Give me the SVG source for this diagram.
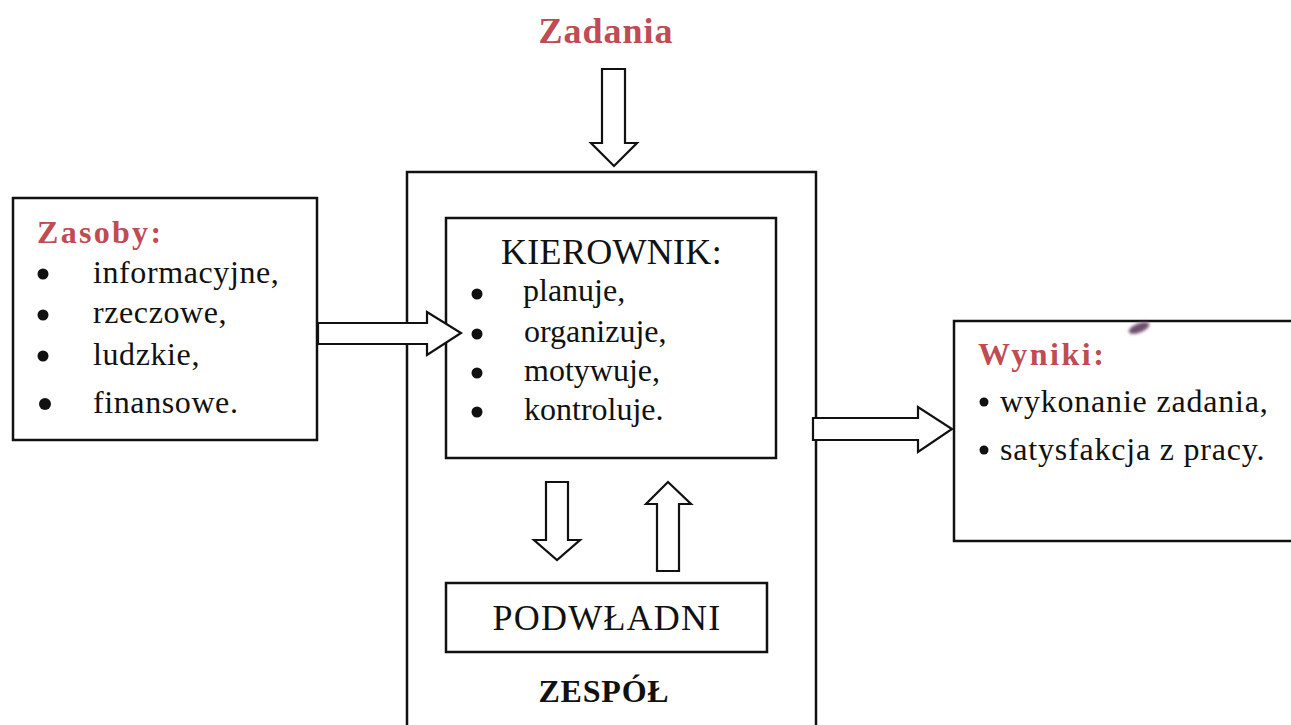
<svg xmlns="http://www.w3.org/2000/svg" width="1291" height="725" viewBox="0 0 1291 725">
  <defs>
    <filter id="soft" x="-50%" y="-50%" width="200%" height="200%">
      <feGaussianBlur stdDeviation="1.5"/>
    </filter>
  </defs>
  <style>
    .box { fill: #fff; stroke: #111; stroke-width: 2.5; }
    .arrow { fill: #fff; stroke: #111; stroke-width: 2.2; stroke-linejoin: miter; }
    .head { font-family: "Liberation Serif", "Times New Roman", serif; font-weight: bold; fill: #bf4c53; }
    .txt { font-family: "Liberation Serif", "Times New Roman", serif; fill: #111; font-size: 32px; }
    .cap { font-family: "Liberation Serif", "Times New Roman", serif; fill: #111; font-size: 36px; }
    .dot { fill: #111; }
  </style>

  <rect width="1291" height="725" fill="#fff"/>

  <!-- Team frame -->
  <g id="zespol">
    <rect class="box" x="407" y="172" width="409" height="570"/>
    <text x="604" y="702" text-anchor="middle" font-family="Liberation Serif, serif" font-weight="bold" font-size="32" letter-spacing="0.8" fill="#111">ZESPÓŁ</text>
  </g>

  <!-- Task label -->
  <g id="zadania">
    <text class="head" x="606" y="43" text-anchor="middle" font-size="36" letter-spacing="1">Zadania</text>
  </g>

  <!-- Resources -->
  <g id="zasoby">
    <rect class="box" x="13" y="198" width="304" height="242"/>
    <text class="head" x="37" y="243" font-size="32" letter-spacing="2.3">Zasoby:</text>
    <circle class="dot" cx="43" cy="274" r="5.5"/>
    <text class="txt" x="93" y="283" letter-spacing="0.6">informacyjne,</text>
    <circle class="dot" cx="43" cy="315" r="5.5"/>
    <text class="txt" x="93" y="323" letter-spacing="0.6">rzeczowe,</text>
    <circle class="dot" cx="43" cy="356" r="5.5"/>
    <text class="txt" x="93" y="365" letter-spacing="0.6">ludzkie,</text>
    <circle class="dot" cx="45" cy="404" r="6"/>
    <text class="txt" x="93" y="413" letter-spacing="0.6">finansowe.</text>
  </g>

  <!-- Manager -->
  <g id="kierownik">
    <rect class="box" x="446" y="218" width="330" height="240"/>
    <text class="cap" x="501" y="264" letter-spacing="0.3">KIEROWNIK:</text>
    <circle class="dot" cx="477" cy="294" r="5.5"/>
    <text class="txt" x="523" y="301">planuje,</text>
    <circle class="dot" cx="477" cy="334" r="5.5"/>
    <text class="txt" x="524" y="342">organizuje,</text>
    <circle class="dot" cx="477" cy="373" r="5.5"/>
    <text class="txt" x="524" y="381">motywuje,</text>
    <circle class="dot" cx="477" cy="412" r="5.5"/>
    <text class="txt" x="524" y="420">kontroluje.</text>
  </g>

  <!-- Subordinates -->
  <g id="podwladni">
    <rect class="box" x="446" y="583" width="321" height="69"/>
    <text class="cap" x="607" y="630" text-anchor="middle" font-size="37" letter-spacing="1.2">PODWŁADNI</text>
  </g>

  <!-- Results -->
  <g id="wyniki">
    <rect class="box" x="954" y="321" width="360" height="220"/>
    <text class="head" x="978" y="365" font-size="32" letter-spacing="2.5">Wyniki:</text>
    <circle class="dot" cx="984" cy="402" r="4.5"/>
    <text class="txt" x="1000" y="412" letter-spacing="0.8">wykonanie zadania,</text>
    <circle class="dot" cx="984" cy="450" r="4.5"/>
    <text class="txt" x="1000" y="460" letter-spacing="0.8">satysfakcja z pracy.</text>
    <!-- ink smudge on the frame -->
    <ellipse cx="1139" cy="328" rx="11" ry="4.5" transform="rotate(-22 1139 328)" fill="#6f4f6e" filter="url(#soft)"/>
  </g>

  <!-- Block arrows -->
  <g id="connectors">
    <!-- tasks into team -->
    <polygon class="arrow" points="602,69 625,69 625,143 637,143 614,166 591,143 602,143"/>
    <!-- resources into manager -->
    <polygon class="arrow" points="318,323 427,323 427,312 461,333 427,355 427,344 318,344"/>
    <!-- team to results -->
    <polygon class="arrow" points="813,418 918,418 918,407 952,429 918,452 918,440 813,440"/>
    <!-- manager down to subordinates -->
    <polygon class="arrow" points="546,482 568,482 568,540 580,540 557,560 534,540 546,540"/>
    <!-- subordinates up to manager -->
    <polygon class="arrow" points="657,571 679,571 679,504 691,504 668,482 646,504 657,504"/>
  </g>
</svg>
